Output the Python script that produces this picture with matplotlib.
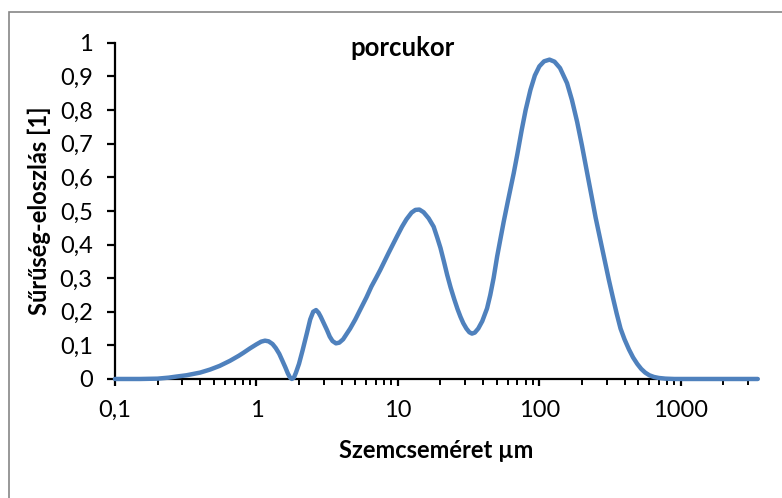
import matplotlib
matplotlib.use("Agg")
import matplotlib.pyplot as plt
from matplotlib.patches import Rectangle
from matplotlib.ticker import FixedLocator, FixedFormatter, LogLocator, NullFormatter

# szemcseméret (µm) és sűrűség-eloszlás értékek
meret = [0.1, 0.15, 0.2, 0.24, 0.27, 0.32, 0.4, 0.47, 0.55, 0.65, 0.75, 0.81,
         0.9, 1.0, 1.08, 1.15, 1.22, 1.3, 1.37, 1.45, 1.52, 1.6, 1.67, 1.73,
         1.78, 1.84, 1.9, 2.0, 2.12, 2.27, 2.4, 2.52, 2.64, 2.75, 2.85, 3.0,
         3.15, 3.3, 3.45, 3.65, 3.85, 4.1, 4.6, 5.0, 5.4, 6.0, 6.5, 7.0, 7.5,
         8.6, 9.85, 10.7, 11.5, 12.5, 13.3, 14.2, 15.2, 16.5, 17.9, 19.0, 20.0,
         21.2, 22.3, 23.6, 25.0, 26.4, 27.7, 29.0, 30.5, 32.0, 33.4, 35.0, 37.0,
         39.5, 42.7, 45.0, 47.5, 50.3, 53.0, 56.0, 60.0, 65.9, 70.0, 75.0, 80.0,
         86.5, 93.0, 100.0, 108.0, 118.0, 128.0, 140.0, 157.0, 170.0, 185.0,
         200.0, 218.0, 235.0, 250.0, 268.0, 286.0, 310.0, 330.0, 352.0, 375.0,
         400.0, 430.0, 460.0, 492.0, 525.0, 560.0, 600.0, 646.0, 700.0, 780.0,
         900.0, 1000.0, 2000.0, 3500.0]
eloszlas = [0.0, 0.0, 0.001, 0.004, 0.007, 0.011, 0.019, 0.028, 0.039, 0.054,
            0.069, 0.078, 0.091, 0.103, 0.111, 0.114, 0.112, 0.104, 0.092,
            0.075, 0.056, 0.035, 0.016, 0.004, 0.0, 0.004, 0.018, 0.045, 0.085,
            0.135, 0.177, 0.200, 0.205, 0.197, 0.185, 0.165, 0.146, 0.126,
            0.113, 0.106, 0.108, 0.118, 0.150, 0.177, 0.205, 0.243, 0.275,
            0.300, 0.324, 0.375, 0.424, 0.453, 0.475, 0.495, 0.503, 0.504,
            0.496, 0.478, 0.453, 0.420, 0.390, 0.348, 0.310, 0.272, 0.238,
            0.208, 0.185, 0.166, 0.150, 0.139, 0.135, 0.138, 0.150, 0.172,
            0.210, 0.250, 0.300, 0.364, 0.415, 0.468, 0.530, 0.612, 0.670,
            0.740, 0.800, 0.860, 0.903, 0.930, 0.945, 0.950, 0.944, 0.925,
            0.880, 0.830, 0.765, 0.695, 0.612, 0.540, 0.480, 0.420, 0.364,
            0.295, 0.245, 0.195, 0.150, 0.118, 0.088, 0.064, 0.045, 0.030,
            0.019, 0.011, 0.006, 0.003, 0.001, 0.0, 0.0, 0.0, 0.0]

x_tickek = [0.1, 1, 10, 100, 1000]
x_feliratok = ["0,1", "1", "10", "100", "1000"]
y_tickek = [0, 0.1, 0.2, 0.3, 0.4, 0.5, 0.6, 0.7, 0.8, 0.9, 1.0]
y_feliratok = ["0", "0,1", "0,2", "0,3", "0,4", "0,5", "0,6", "0,7", "0,8", "0,9", "1"]

plt.rcParams['font.family'] = ['Lato', 'DejaVu Sans']

fig = plt.figure(figsize=(7.82, 4.98), dpi=100)
ax = fig.add_axes([0.147, 0.239, 0.822, 0.675])

ax.plot(meret, eloszlas, color="#4F81BD", linewidth=3.2, solid_joinstyle="round",
        solid_capstyle="round", clip_on=False, zorder=3)

ax.set_xscale("log")
ax.set_xlim(0.1, 3500)
ax.set_ylim(0, 1)

ax.xaxis.set_major_locator(FixedLocator(x_tickek))
ax.xaxis.set_major_formatter(FixedFormatter(x_feliratok))
ax.xaxis.set_minor_locator(LogLocator(base=10, subs=range(2, 10)))
ax.xaxis.set_minor_formatter(NullFormatter())
ax.yaxis.set_major_locator(FixedLocator(y_tickek))
ax.yaxis.set_major_formatter(FixedFormatter(y_feliratok))

for s in ["top", "right"]:
    ax.spines[s].set_visible(False)
for s in ["left", "bottom"]:
    ax.spines[s].set_linewidth(1.6)

ax.tick_params(axis="y", which="major", direction="out", length=6, width=1.6,
               pad=10, labelsize=17)
ax.tick_params(axis="x", which="major", direction="out", length=5, width=1.6,
               pad=10, labelsize=17)
ax.tick_params(axis="x", which="minor", direction="out", length=4, width=1.4)

ax.set_xlabel("Szemcseméret µm", fontsize=17, fontweight="bold")
ax.set_ylabel("Sűrűség-eloszlás [1]", fontsize=17, fontweight="bold")
ax.yaxis.set_label_coords(-0.10, 0.5)
ax.xaxis.set_label_coords(0.5, -0.18)

fig.text(402 / 782, 1 - 48 / 498, "porcukor", fontsize=18.5, fontweight="bold",
         ha="center", va="center")

# keret a diagram körül
fig.patches.append(Rectangle((9 / 782, -0.5), 2, 0.5 + 1 - 12 / 498,
                             transform=fig.transFigure, fill=False,
                             edgecolor="#868686", linewidth=1.2))

fig.savefig("out.png", dpi=100)
